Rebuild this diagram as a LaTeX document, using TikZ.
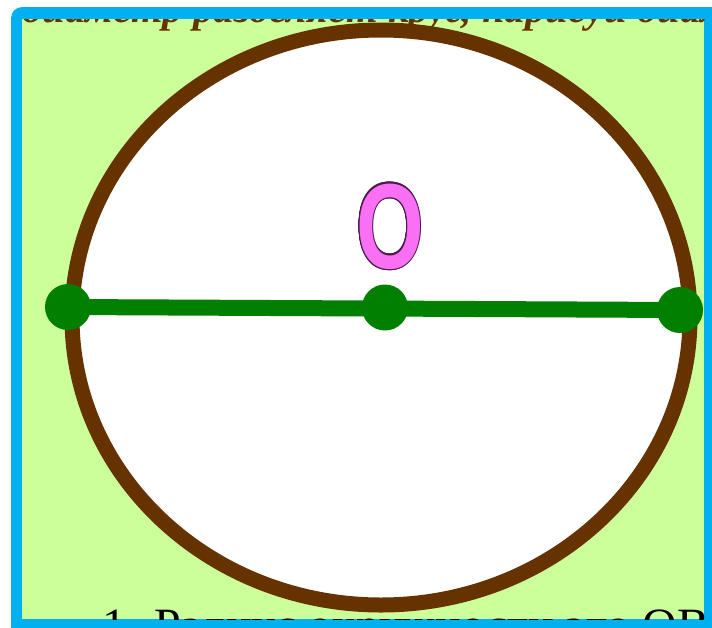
\documentclass[tikz,border=0pt]{standalone}
\usepackage{fontspec}
\setmainfont{Liberation Serif}
\newfontfamily\labelfont{Liberation Sans}
\usepackage{contour}
\contourlength{0.9pt}

\definecolor{frameblue}{HTML}{00B0F0}
\definecolor{paper}{HTML}{CCFF99}
\definecolor{rimbrown}{HTML}{663300}
\definecolor{textbrown}{HTML}{663300}
\definecolor{dotgreen}{HTML}{007F00}
\definecolor{labelpink}{HTML}{F970F5}
\definecolor{labeledge}{HTML}{4A1A4A}

\begin{document}
\begin{tikzpicture}[x=0.025cm, y=-0.025cm,
  rim/.style={draw=rimbrown, line width=0.375cm, fill=white},
  chord/.style={draw=dotgreen, line width=0.4cm},
  dot/.style={circle, fill=dotgreen, inner sep=0pt, minimum size=1.15cm},
  cut/.style={inner sep=0pt, anchor=base west}
]
\useasboundingbox (0,0) rectangle (712,627);
\clip (0,0) rectangle (712,627);
\fill[white] (0,0) rectangle (712,627);

% frame and sheet
\fill[frameblue, rounded corners=8] (11,7) rectangle (740,660);
\fill[paper] (22,19) rectangle (704,619);

% text lines, cut by the frame
\begin{scope}
  \clip (22,19) rectangle (704,619);
  \node[cut, text=textbrown, font=\fontsize{29}{33}\selectfont\bfseries\itshape] (head) at (22,22) {диаметр разделяет круг, нарисуй диаметр};
  \node[cut, font=\fontsize{34}{39}\selectfont] (task) at (102,641) {1. Радиус окружности это ОВ};
\end{scope}

% circle
\draw[rim] (381,317.5) ellipse [x radius=309, y radius=287.5];

% diameter
\coordinate (pl) at (68,307);
\coordinate (pc) at (385,307.5);
\coordinate (pr) at (680,310);
\draw[chord] (pl) -- (pr);
\node[dot] (left) at (pl) {};
\node[dot] (centre) at (pc) {};
\node[dot] (right) at (pr) {};

\node[text=labelpink, font=\labelfont\bfseries\fontsize{86}{90}\selectfont, xscale=0.72, inner sep=0pt] (olabel) at (390,227) {\contour{labeledge}{O}};

\end{tikzpicture}
\end{document}
